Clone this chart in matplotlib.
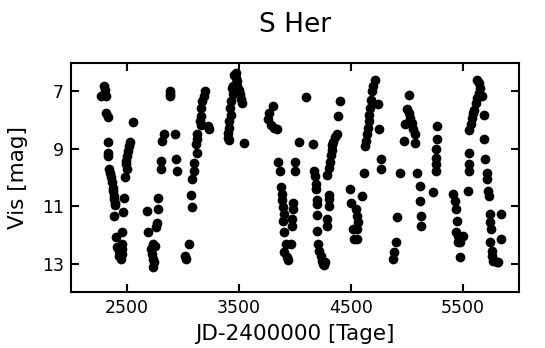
import matplotlib
matplotlib.use("Agg")
import matplotlib.pyplot as plt

# Beobachtungen S Her (visuelle Helligkeiten)
jd = [2291, 2300, 2271, 2314, 2314, 2328, 2557, 2334, 2328, 2334,
      2343, 2351, 2357, 2362, 2371, 2371, 2380, 2385, 2391, 2394,
      2385, 2400, 2414, 2428, 2428, 2442, 2528, 2520, 2508, 2500,
      2494, 2491, 2500, 2485, 2471, 2462, 2457, 2451, 2457, 2451,
      2880, 2888, 2885, 3200, 3186, 3171, 3157, 3157, 3151, 3163,
      3220, 3228, 2828, 2808, 2928, 3128, 3122, 3114, 3122, 2800,
      2800, 2937, 2943, 3100, 3094, 3077, 2780, 2677, 2780, 3071,
      3077, 2771, 2757, 2685, 2728, 2714, 2722, 2734, 2742, 2734,
      2751, 3057, 3014, 3028,
      3471, 3457, 3471, 3486, 3480, 3500, 3508, 3514, 3528, 3443,
      3428, 3423, 3428, 3414, 3414, 3405, 3400, 3414, 3450, 3440,
      3543, 3800, 3771, 3757, 3785, 3814, 3843,
      3849, 3863, 3877, 3883, 3891, 3906, 3906, 3920, 3963, 3928,
      3934, 3880, 3895, 3900, 3986, 3986, 3971, 3971, 4003, 4003,
      4034, 4099, 4157,
      4171, 4180, 4186, 4186, 4194, 4194, 4200, 4200, 4208, 4214,
      4228, 4242, 4257, 4271, 4250, 4286, 4300, 4314, 4323, 4328,
      4334, 4343, 4357, 4371, 4386, 4400, 4300, 4300, 4300, 4286,
      4286, 4494, 4500, 4514, 4529,
      4543, 4557, 4566, 4557, 4557, 4600, 4614, 4629, 4634, 4643,
      4651, 4657, 4663, 4671, 4680, 4686, 4700, 4714, 4743, 4749,
      4766, 4766, 4937, 4914, 4900, 4886, 4871,
      5014, 5000, 5014, 5029, 5043, 5057, 5072, 5072, 4986, 4971,
      5086, 5114, 5114, 5129, 5129, 5272, 5272, 5257, 5257, 5257,
      5257, 5229,
      5414, 5428, 5437, 5443, 5437, 5457, 5457, 5471, 5500, 5471,
      5556, 5551, 5551, 5542, 5556, 5571, 5579, 5585, 5599, 5614,
      5628, 5642, 5642, 5628, 5656, 5671, 5685, 5685, 5699, 5714,
      5714, 5722, 5728, 5742, 5742, 5751, 5742, 5757, 5757, 5771,
      5800, 5814, 5836, 5836]

vis = [6.83, 6.94, 7.17, 7.17, 7.75, 7.90, 8.07, 8.77, 9.14, 9.25,
       9.71, 9.83, 10.0, 10.17, 10.35, 10.46, 10.64, 10.75, 10.87, 10.96,
       11.35, 12.08, 12.43, 12.55, 12.72, 12.83, 8.77, 8.91, 9.08, 9.25,
       9.42, 9.54, 9.71, 10.0, 10.7, 11.2, 11.9, 12.3, 12.49, 12.66,
       7.0, 7.1, 7.17, 7.0, 7.17, 7.35, 7.58, 7.87, 8.04, 8.16,
       8.22, 8.33, 8.5, 8.73, 8.5, 8.5, 8.67, 8.85, 9.14, 9.43,
       9.71, 9.37, 9.77, 9.48, 9.77, 10.06, 10.7, 11.16, 11.1, 10.6,
       11.04, 11.6, 11.73, 11.9, 12.3, 12.49, 12.66, 12.83, 12.95, 13.12,
       12.37, 12.3, 12.72, 12.83,
       6.36, 6.45, 6.53, 6.65, 6.82, 6.94, 7.1, 7.27, 7.4, 7.1,
       7.35, 7.58, 7.81, 8.04, 8.27, 8.45, 8.62, 8.68, 6.8, 6.9,
       8.8, 7.5, 7.75, 7.98, 8.16, 8.27, 8.33,
       9.47, 9.76, 10.34, 10.57, 11.03, 11.26, 11.9, 12.3, 12.3, 12.77,
       12.88, 10.8, 11.5, 12.6, 10.87, 11.1, 11.45, 11.68, 9.47, 9.76,
       8.76, 7.2, 8.82,
       9.77, 9.94, 10.23, 10.4, 10.8, 10.92, 11.32, 11.85, 12.3, 12.55,
       12.72, 12.9, 13.06, 12.95, 13.0, 9.9, 9.68, 9.45, 9.22, 9.05,
       8.87, 8.76, 8.58, 8.47, 7.86, 7.35, 10.6, 10.75, 10.98, 11.45,
       11.68, 10.4, 10.87, 11.8, 12.14,
       11.1, 11.33, 11.56, 11.79, 12.14, 10.64, 9.83, 8.9, 8.73, 8.5,
       8.27, 8.04, 7.81, 7.58, 7.29, 7.0, 6.83, 6.6, 7.46, 8.33,
       9.37, 9.71, 9.83, 11.39, 12.25, 12.6, 12.83,
       7.12, 7.63, 7.75, 7.92, 8.1, 8.33, 8.5, 8.79, 8.15, 8.73,
       9.83, 10.31, 10.81, 11.33, 11.68, 8.21, 8.67, 9.02, 9.31, 9.54,
       9.77, 10.52,
       10.58, 10.81, 11.1, 11.5, 11.9, 12.02, 12.25, 12.25, 12.02, 12.78,
       9.14, 9.54, 9.77, 10.46, 8.35, 8.15, 7.92, 7.75, 7.64, 7.41,
       7.23, 7.06, 6.71, 6.6, 6.89, 7.17, 7.81, 8.67, 9.37, 9.83,
       10.06, 10.46, 10.64, 11.27, 11.56, 11.79, 12.25, 12.55, 12.72, 12.9,
       12.95, 12.95, 11.27, 12.14]

xticks = [2500, 3500, 4500, 5500]
yticks = [7, 9, 11, 13]

fig = plt.figure(figsize=(5.45, 3.48), dpi=100)
ax = fig.add_axes([0.1303, 0.1595, 0.822, 0.6609])

ax.plot(jd, vis, 'o', color='black', markersize=7, markeredgewidth=0)

ax.set_xlim(2000, 6000)
ax.set_ylim(14, 6)
ax.set_xticks(xticks)
ax.set_yticks(yticks)
ax.tick_params(direction='in', length=6, width=1.5, top=True, right=True,
               labelsize=12.5, pad=5)
for s in ax.spines.values():
    s.set_linewidth(1.5)

ax.set_title('S Her', fontsize=19, pad=22)
ax.set_xlabel('JD-2400000 [Tage]', fontsize=15.5)
ax.set_ylabel('Vis [mag]', fontsize=15.5)
ax.xaxis.set_label_coords(0.5, -0.135)
ax.yaxis.set_label_coords(-0.096, 0.5)

fig.savefig('out.png', dpi=100)
